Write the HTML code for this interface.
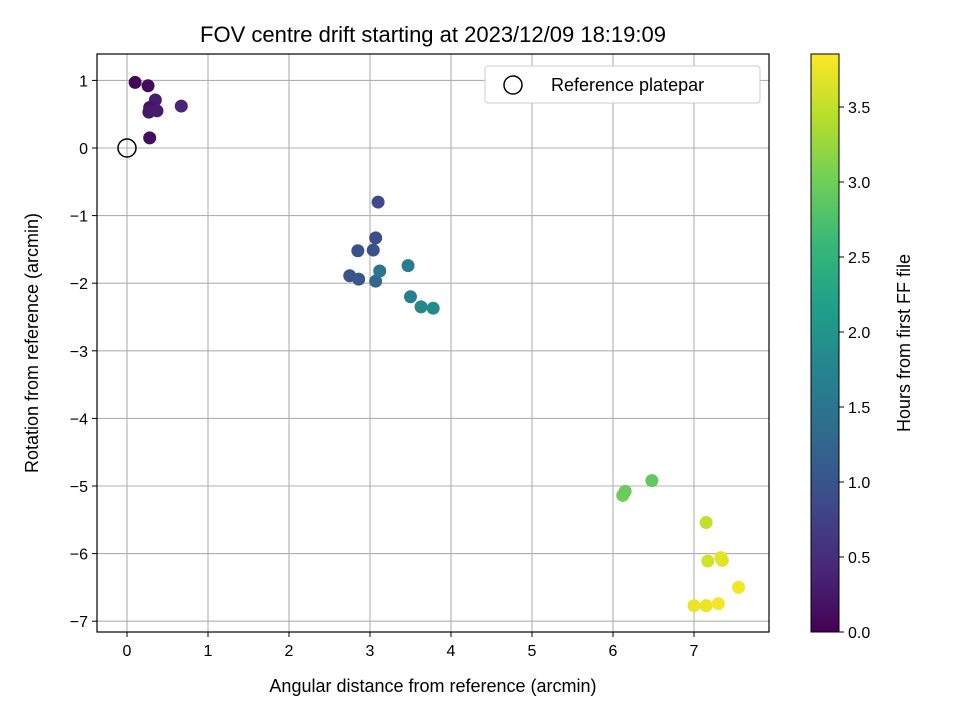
<!DOCTYPE html>
<html><head><meta charset="utf-8"><style>
body{margin:0;background:#fff;font-family:"Liberation Sans",sans-serif;}
text{font-family:"Liberation Sans",sans-serif;fill:#000;}
</style></head><body>
<svg id="chart" width="960" height="720" xmlns="http://www.w3.org/2000/svg">
<text x="433" y="42" font-size="22" text-anchor="middle">FOV centre drift starting at 2023/12/09 18:19:09</text>
<g id="grid"></g><g id="pts"></g><g id="axes"></g>
<text x="433" y="692" font-size="18" text-anchor="middle">Angular distance from reference (arcmin)</text>
<text transform="translate(38,343) rotate(-90)" font-size="18" text-anchor="middle">Rotation from reference (arcmin)</text>
<text transform="translate(910,343) rotate(-90)" font-size="18" text-anchor="middle">Hours from first FF file</text>
<g>
<rect x="485" y="66" width="275" height="37" rx="3" fill="#fff" stroke="#ccc"/>
<circle cx="513" cy="85" r="9" fill="none" stroke="#000" stroke-width="1.5"/>
<text x="551" y="91" font-size="18">Reference platepar</text>
</g>
</svg>
<script>
const xs=[0.1,0.26,0.35,0.28,0.27,0.37,0.67,0.28,3.1,3.07,3.04,2.85,2.75,2.86,3.07,3.12,3.47,3.5,3.63,3.78,6.12,6.15,6.48,7.15,7.17,7.35,7.33,7.55,7.0,7.15,7.3];
const ys=[0.97,0.92,0.71,0.6,0.53,0.55,0.62,0.15,-0.8,-1.33,-1.51,-1.52,-1.89,-1.94,-1.97,-1.82,-1.74,-2.2,-2.35,-2.37,-5.14,-5.08,-4.92,-5.54,-6.11,-6.1,-6.06,-6.5,-6.77,-6.77,-6.74];
const hours=[0.05,0.1,0.3,0.2,0.25,0.3,0.4,0.15,0.85,0.9,0.95,0.95,1.0,1.05,1.3,1.5,1.6,1.7,1.8,1.85,3.0,2.95,2.9,3.5,3.6,3.7,3.7,3.8,3.75,3.75,3.8];
const xTicks=[0,1,2,3,4,5,6,7];
const yTicks=[1,0,-1,-2,-3,-4,-5,-6,-7];
const cTicks=[0,0.5,1,1.5,2,2.5,3,3.5];
const L=97,R=769,T=54,B=632;
const X=v=>127+v*81, Y=v=>148-v*67.6;
const C=v=>632-v*150;
const vir=[[68,1,84],[72,40,120],[62,74,137],[49,104,142],[38,130,142],[31,158,137],[53,183,121],[110,206,88],[181,222,43],[253,231,37]];
function col(h){let t=Math.max(0,Math.min(1,h/3.853))*9,i=Math.min(8,Math.floor(t)),f=t-i,a=vir[i],b=vir[i+1];return `rgb(${a.map((v,k)=>Math.round(v+(b[k]-v)*f)).join(',')})`;}
const NS="http://www.w3.org/2000/svg";
function mk(p,tag,at,txt){const e=document.createElementNS(NS,tag);for(const k in at)e.setAttribute(k,at[k]);if(txt!==undefined)e.textContent=txt;p.appendChild(e);return e;}
const g=document.getElementById('grid'),pg=document.getElementById('pts'),ax=document.getElementById('axes');
xTicks.forEach(v=>{const x=X(v);
const l=mk(g,'line',{x1:x,x2:x,y1:T,y2:B,stroke:'#b0b0b0','stroke-width':1.1});


mk(ax,'line',{x1:x,x2:x,y1:B,y2:B+5,stroke:'#000'});
const t=mk(ax,'text',{x:x,y:B+24,'font-size':16,'text-anchor':'middle'},String(v));

});
yTicks.forEach(v=>{const y=Y(v);
const l=mk(g,'line',{x1:L,x2:R,y1:y,y2:y,stroke:'#b0b0b0','stroke-width':1.1});


mk(ax,'line',{x1:L-5,x2:L,y1:y,y2:y,stroke:'#000'});
const t=mk(ax,'text',{x:L-9,y:y+6,'font-size':16,'text-anchor':'end'},(v<0?'\u2212':'')+Math.abs(v));

});
xs.forEach((v,i)=>{const c=mk(pg,'circle',{cx:X(v),cy:Y(ys[i]),r:6.5,fill:col(hours[i])});

});
const ref=mk(pg,'circle',{cx:X(0),cy:Y(0),r:9,fill:'none',stroke:'#000','stroke-width':1.5});


mk(ax,'rect',{x:L,y:T,width:R-L,height:B-T,fill:'none',stroke:'#000','stroke-width':1.2});
// colorbar
const defs=mk(document.getElementById('chart'),'defs',{});
const gr=mk(defs,'linearGradient',{id:'vg',x1:0,y1:1,x2:0,y2:0});
vir.forEach((c,i)=>mk(gr,'stop',{offset:i/9,'stop-color':`rgb(${c.join(',')})`}));
const cb=mk(ax,'rect',{x:811,y:54,width:28,height:578,fill:'url(#vg)',stroke:'#000','stroke-width':1});


cTicks.forEach(v=>{const y=C(v);mk(ax,'line',{x1:839,x2:844,y1:y,y2:y,stroke:'#000'});
const t=mk(ax,'text',{x:848,y:y+6,'font-size':16},v.toFixed(1));

});
</script>
</body></html>
